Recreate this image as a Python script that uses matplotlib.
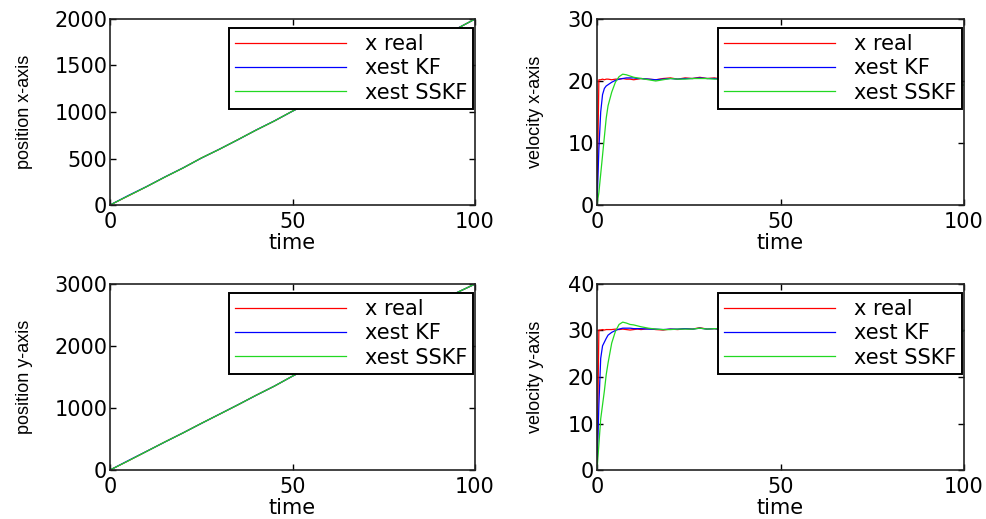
import matplotlib
matplotlib.use("Agg")
import matplotlib.pyplot as plt

plt.rcParams['font.family'] = ['DejaVu Sans']

# position samples (every 5 time units)
t_pos = [0, 5, 10, 15, 20, 25, 30, 35, 40, 45, 50, 55, 60, 65, 70, 75, 80, 85, 90, 95, 100]
px_real = [0, 98, 197, 300, 398, 505, 600, 702, 805, 903, 1010, 1108, 1210, 1310, 1408, 1512, 1612, 1710, 1805, 1895, 2000]
px_kf = [0, 102, 198, 301, 399, 504, 601, 701, 806, 904, 1009, 1109, 1209, 1311, 1409, 1511, 1611, 1711, 1806, 1896, 1999]
px_sskf = [0, 99, 197, 300, 398, 505, 600, 702, 805, 903, 1010, 1108, 1210, 1310, 1408, 1512, 1612, 1710, 1805, 1895, 2000]
py_real = [0, 148, 300, 452, 598, 752, 900, 1050, 1205, 1352, 1515, 1665, 1815, 1965, 2115, 2270, 2420, 2570, 2720, 2860, 3000]
py_kf = [0, 152, 301, 451, 599, 751, 901, 1051, 1204, 1353, 1514, 1664, 1816, 1964, 2116, 2269, 2421, 2569, 2721, 2861, 2999]
py_sskf = [0, 148, 300, 452, 598, 752, 900, 1050, 1205, 1352, 1515, 1665, 1815, 1965, 2115, 2270, 2420, 2570, 2720, 2860, 3000]

# velocity samples
t_vel = [0, 0.5, 1, 1.5, 2, 2.5, 3, 4, 5, 6, 7, 8, 9, 10, 11, 12, 14, 16, 18, 20, 22, 24, 26, 28,
         30, 32, 34, 36, 40, 50, 60, 70, 80, 90, 95, 98, 100]
vx_real = [0, 20.2, 20.2, 20.3, 20.2, 20.3, 20.3, 20.2, 20.3, 20.3, 20.4, 20.3, 20.3, 20.2, 20.3, 20.4, 20.3, 20.2, 20.4,
           20.5, 20.3, 20.5, 20.4, 20.6, 20.4, 20.5, 20.3, 20.4, 20.3, 20.2, 20.0, 19.8, 19.7, 19.6, 19.5, 19.4, 19.3]
vx_kf = [0, 9, 15, 17.8, 18.8, 19.2, 19.4, 19.8, 20.1, 20.3, 20.4, 20.5, 20.5, 20.5, 20.4, 20.4, 20.3, 20.2, 20.3,
         20.4, 20.3, 20.4, 20.4, 20.5, 20.4, 20.4, 20.3, 20.4, 20.3, 20.2, 20.0, 19.8, 19.7, 19.6, 19.5, 19.4, 19.3]
vx_sskf = [0, 2, 5, 8, 11, 14, 16, 18.2, 19.8, 20.7, 21.1, 21.0, 20.8, 20.6, 20.5, 20.4, 20.2, 20.0, 20.2,
           20.4, 20.3, 20.3, 20.4, 20.4, 20.4, 20.3, 20.3, 20.4, 20.3, 20.2, 20.0, 19.8, 19.7, 19.6, 19.5, 19.4, 19.3]
vy_real = [0, 30.1, 30.1, 30.2, 30.1, 30.2, 30.2, 30.2, 30.3, 30.2, 30.3, 30.2, 30.1, 30.2, 30.3, 30.2, 30.4, 30.2, 30.1,
           30.3, 30.2, 30.4, 30.3, 30.6, 30.3, 30.4, 30.2, 30.3, 30.3, 30.2, 30.2, 30.1, 30.0, 30.0, 29.9, 29.9, 29.9]
vy_kf = [0, 14, 24, 26.7, 27.5, 28.3, 29.0, 29.6, 30.0, 30.3, 30.5, 30.5, 30.5, 30.4, 30.4, 30.4, 30.3, 30.3, 30.2,
         30.3, 30.3, 30.4, 30.3, 30.5, 30.3, 30.4, 30.2, 30.3, 30.3, 30.2, 30.2, 30.1, 30.0, 30.0, 29.9, 29.9, 29.9]
vy_sskf = [0, 5.5, 11, 14, 17, 20.5, 23, 27.3, 29.8, 31.3, 31.8, 31.6, 31.3, 31.2, 31.0, 30.8, 30.5, 30.3, 30.2,
           30.2, 30.3, 30.3, 30.3, 30.5, 30.3, 30.4, 30.3, 30.3, 30.3, 30.2, 30.2, 30.1, 30.0, 30.0, 29.9, 29.9, 29.9]

labels = ['x real', 'xest KF', 'xest SSKF']
colors = ['#ff0000', '#0000ff', '#22d822']

panels = [
    (t_pos, [px_real, px_kf, px_sskf], 'position x-axis', [0, 500, 1000, 1500, 2000]),
    (t_vel, [vx_real, vx_kf, vx_sskf], 'velocity x-axis', [0, 10, 20, 30]),
    (t_pos, [py_real, py_kf, py_sskf], 'position y-axis', [0, 1000, 2000, 3000]),
    (t_vel, [vy_real, vy_kf, vy_sskf], 'velocity y-axis', [0, 10, 20, 30, 40]),
]
# axes rectangles in figure fractions
rects = [
    [0.1115, 0.605, 0.3698, 0.3584],
    [0.6049, 0.605, 0.3718, 0.3584],
    [0.1115, 0.0944, 0.3698, 0.3584],
    [0.6049, 0.0944, 0.3718, 0.3584],
]

fig = plt.figure(figsize=(9.87, 5.19), dpi=100)

for i, (t, series, ylab, yticks) in enumerate(panels):
    ax = fig.add_axes(rects[i])
    for s, c, lab in zip(series, colors, labels):
        ax.plot(t, s, color=c, lw=0.9, label=lab)
    ax.set_xlim(0, 100)
    ax.set_ylim(yticks[0], yticks[-1])
    ax.set_xticks([0, 50, 100])
    ax.set_yticks(yticks)
    ax.tick_params(direction='in', top=True, right=True, length=4, width=1,
                   labelsize=15, colors='black')
    ax.tick_params(axis='y', pad=2)
    ax.tick_params(axis='x', pad=5)
    for sp in ax.spines.values():
        sp.set_linewidth(1.2)
        sp.set_color('#222222')
    ax.set_xlabel('time', fontsize=15)
    ax.xaxis.set_label_coords(0.5, -0.152)
    ax.set_ylabel(ylab, fontsize=13, family=['Liberation Sans', 'DejaVu Sans'])
    if i % 2 == 0:
        ax.yaxis.set_label_coords(-0.212, 0.5)
    else:
        ax.yaxis.set_label_coords(-0.145, 0.5)
    leg = ax.legend(loc='upper right', bbox_to_anchor=(0.995, 0.952), borderaxespad=0,
                    fontsize=15, fancybox=False, framealpha=1, edgecolor='black',
                    handlelength=5.3, handletextpad=0.9, labelspacing=0.2, borderpad=0.3)
    leg.get_frame().set_linewidth(1.4)

fig.savefig('out.png', dpi=100)
